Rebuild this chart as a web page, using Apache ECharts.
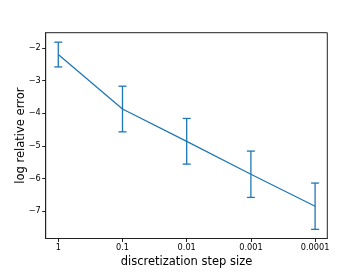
<!DOCTYPE html>
<html><head><meta charset="utf-8">
<script src="https://cdn.jsdelivr.net/npm/echarts@6/dist/echarts.min.js"></script>
<style>html,body{margin:0;padding:0;background:#fff}#c{width:364px;height:273px}</style>
</head><body><div id="c"></div>
<script>
const categories = ['1', '0.1', '0.01', '0.001', '0.0001'];
const meanValues = [-2.2, -3.87, -4.86, -5.87, -6.85];
const errorValues = [0.38, 0.70, 0.70, 0.71, 0.71];
const yTicks = [-7, -6, -5, -4, -3, -2];

const color = '#1f77b4';
const font = 'DejaVu Sans';
const lineData = meanValues.map((v, i) => [i, v]);
const errData = meanValues.map((v, i) => [i, v - errorValues[i], v + errorValues[i]]);

const chart = echarts.init(document.getElementById('c'), null, {renderer: 'canvas'});
chart.setOption({
  animation: false,
  grid: {left: 45.7, right: 36.7, top: 32.7, bottom: 30.7, show: true, borderColor: '#222', borderWidth: 1, backgroundColor: 'transparent'},
  xAxis: {
    type: 'value', min: -0.196, max: 4.19,
    name: 'discretization step size', nameLocation: 'middle', nameGap: 17.5, nameMoveOverlap: false,
    nameTextStyle: {fontFamily: font, fontSize: 11.5, color: '#000'},
    splitLine: {show: false},
    axisLine: {show: true, onZero: false, lineStyle: {color: '#222', width: 1}},
    axisTick: {show: true, length: 3.5, lineStyle: {color: '#222'}, customValues: categories.map((c, i) => i)},
    axisLabel: {fontFamily: font, fontSize: 8.2, color: '#000', margin: 5,
      customValues: categories.map((c, i) => i),
      formatter: v => categories[Math.round(v)]}
  },
  yAxis: {
    type: 'value', min: -7.84, max: -1.53,
    name: 'log relative error', nameLocation: 'middle', nameGap: 19, nameMoveOverlap: false,
    nameTextStyle: {fontFamily: font, fontSize: 11.5, color: '#000'},
    splitLine: {show: false},
    axisLine: {show: true, onZero: false, lineStyle: {color: '#222', width: 1}},
    axisTick: {show: true, length: 3.5, lineStyle: {color: '#222'}, customValues: yTicks},
    axisLabel: {fontFamily: font, fontSize: 8.2, color: '#000', margin: 5,
      customValues: yTicks,
      formatter: v => (v < 0 ? '\u2212' + Math.abs(v) : String(v))}
  },
  series: [
    {type: 'line', data: lineData, symbol: 'none', lineStyle: {color: color, width: 1.3}, z: 3},
    {type: 'custom', data: errData, z: 4,
      renderItem: function (params, api) {
        const x = api.value(0);
        const lo = api.coord([x, api.value(1)]);
        const hi = api.coord([x, api.value(2)]);
        const cap = 4;
        const st = {stroke: color, lineWidth: 1.3};
        return {type: 'group', children: [
          {type: 'line', shape: {x1: lo[0], y1: lo[1], x2: hi[0], y2: hi[1]}, style: st},
          {type: 'line', shape: {x1: lo[0] - cap, y1: lo[1], x2: lo[0] + cap, y2: lo[1]}, style: st},
          {type: 'line', shape: {x1: hi[0] - cap, y1: hi[1], x2: hi[0] + cap, y2: hi[1]}, style: st}
        ]};
      }
    }
  ]
});
</script></body></html>
